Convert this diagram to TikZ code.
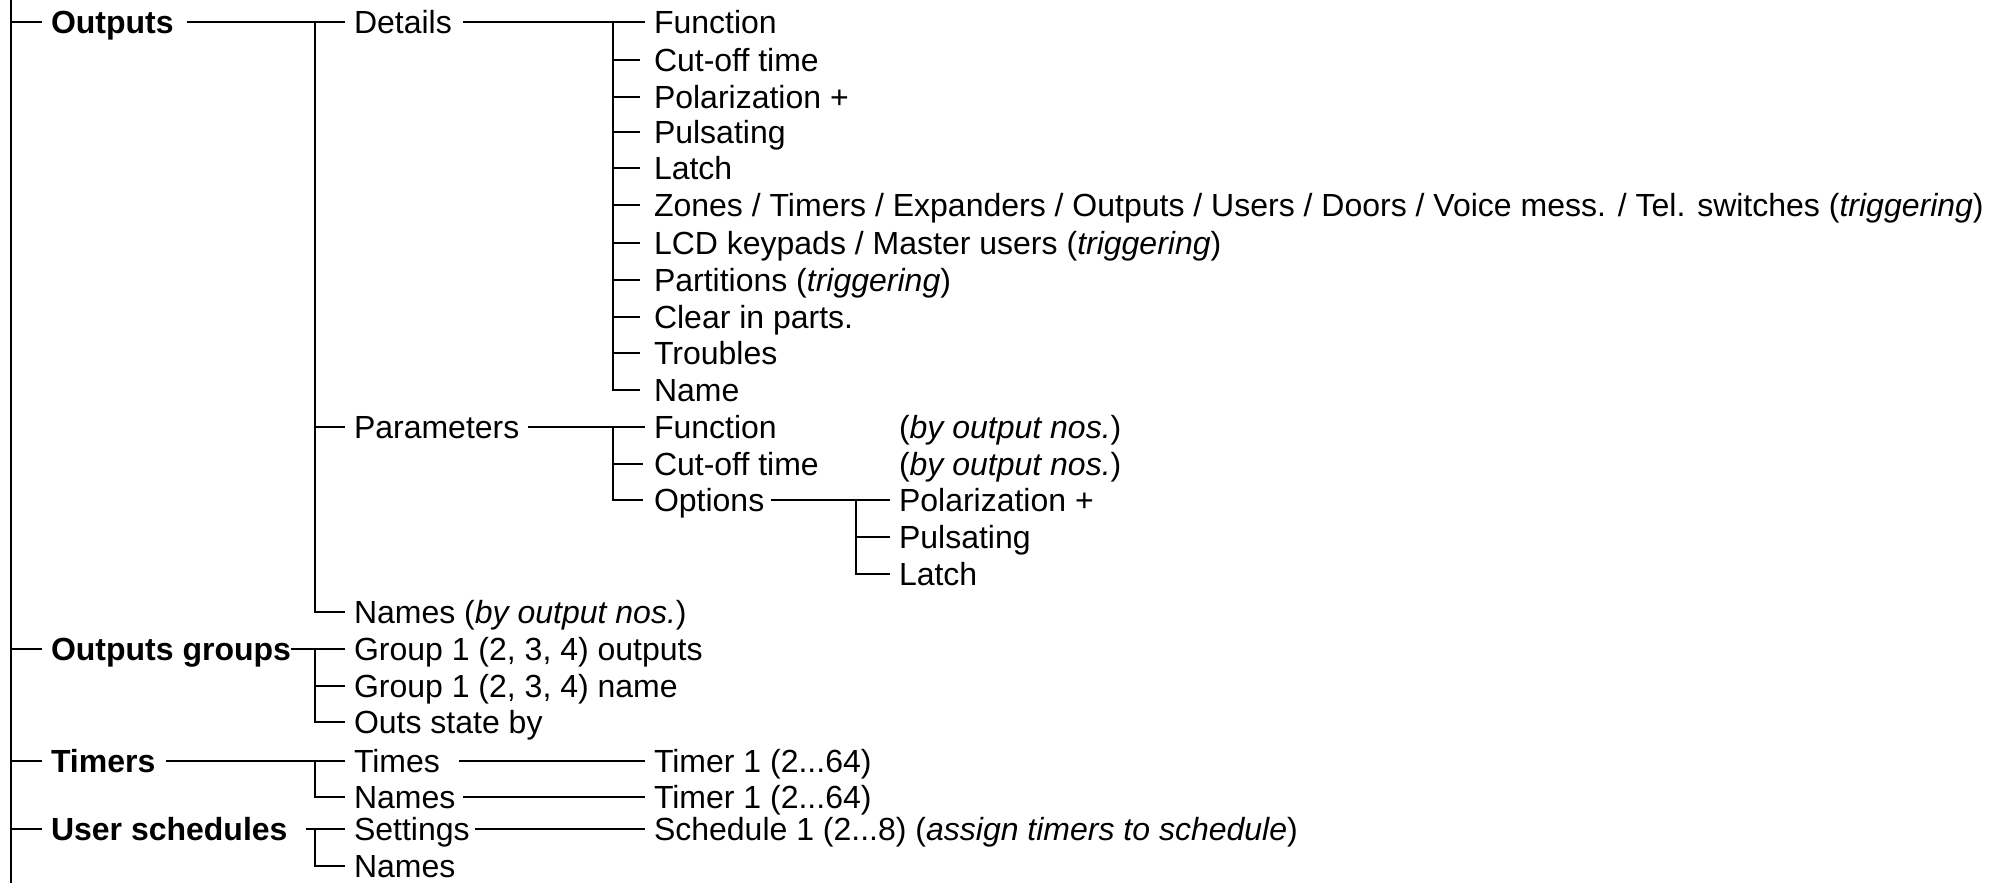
\documentclass[tikz,border=0pt]{standalone}
\usepackage{fontspec}
\setmainfont{Liberation Sans}
\begin{document}
\begin{tikzpicture}[x=1pt,y=-1pt,line width=2pt,
  lbl/.style={anchor=west,inner xsep=8pt,inner ysep=0pt,text height=22.5pt,text depth=0pt,
    font=\fontsize{32}{38}\selectfont},
  hd/.style={lbl,font=\fontsize{32}{38}\selectfont\bfseries}]
\useasboundingbox (0,0) rectangle (2008,883);
% level 1
\node[hd] (out) at (42,22) {Outputs};
\node[hd] (og)  at (42,649) {Outputs groups};
\node[hd] (tim) at (42,761) {Timers};
\node[hd] (us)  at (42,829) {User schedules};
% level 2
\node[lbl] (det) at (345,22)  {Details};
\node[lbl] (par) at (345,427) {Parameters};
\node[lbl] (nam) at (345,612) {Names (\textit{by output nos.})};
\node[lbl] (g1)  at (345,649) {Group 1 (2, 3, 4) outputs};
\node[lbl] (g2)  at (345,686) {Group 1 (2, 3, 4) name};
\node[lbl] (ost) at (345,722) {Outs state by};
\node[lbl] (tms) at (345,761) {Times};
\node[lbl] (tnm) at (345,797) {Names};
\node[lbl] (set) at (345,829) {Settings};
\node[lbl] (snm) at (345,866) {Names};
% level 3 (Details)
\node[lbl] (f1)  at (645,22)  {Function};
\node[lbl] (c1)  at (645,60)  {Cut-off time};
\node[lbl] (p1)  at (645,97)  {Polarization +};
\node[lbl] (pu1) at (645,132) {Pulsating};
\node[lbl] (l1)  at (645,168) {Latch};
\node[lbl] (z1)  at (645,205) {Zones / Timers / Expanders / Outputs / Users / Doors / Voice mess. / Tel. switches (\textit{triggering})};
\node[lbl] (lcd) at (645,243) {LCD keypads / Master users (\textit{triggering})};
\node[lbl] (prt) at (645,280) {Partitions (\textit{triggering})};
\node[lbl] (clr) at (645,317) {Clear in parts.};
\node[lbl] (trb) at (645,353) {Troubles};
\node[lbl] (nm)  at (645,390) {Name};
% level 3 (Parameters)
\node[lbl] (f2)  at (645,427) {Function};
\node[lbl] (c2)  at (645,464) {Cut-off time};
\node[lbl] (opt) at (645,500) {Options};
\node[lbl] (nos1) at (890,427) {(\textit{by output nos.})};
\node[lbl] (nos2) at (890,464) {(\textit{by output nos.})};
% level 4 (Options)
\node[lbl] (po)  at (890,500) {Polarization +};
\node[lbl] (pu2) at (890,537) {Pulsating};
\node[lbl] (la)  at (890,574) {Latch};
% timers / schedules
\node[lbl] (t1)  at (645,761) {Timer 1 (2...64)};
\node[lbl] (t2)  at (645,797) {Timer 1 (2...64)};
\node[lbl] (sch) at (645,829) {Schedule 1 (2...8) (\textit{assign timers to schedule})};
% trunk
\coordinate (top) at (11,0);
\coordinate (bot) at (11,883);
\draw (top) -- (bot);
\foreach \n in {out,og,tim,us} \draw (top |- \n.west) -- (\n.west);
% Outputs
\coordinate (jo) at (315,22);
\draw ([xshift=4pt]out.east) -- (det.west);
\draw (jo) |- (nam.west);
\draw (jo |- par.west) -- (par.west);
% Details
\coordinate (jd) at (613,22);
\draw ([xshift=2pt]det.east) -- (f1.west);
\draw (jd) |- ([xshift=-5pt]nm.west);
\foreach \n in {c1,p1,pu1,l1,z1,lcd,prt,clr,trb} \draw (jd |- \n.west) -- ([xshift=-5pt]\n.west);
% Parameters
\coordinate (jp) at (613,427);
\draw ([xshift=0pt]par.east) -- (f2.west);
\draw (jp) |- ([xshift=-2pt]opt.west);
\draw (jp |- c2.west) -- ([xshift=-2pt]c2.west);
% Options
\coordinate (jopt) at (856,500);
\draw ([xshift=-2pt]opt.east) -- (po.west);
\draw (jopt) |- (la.west);
\draw (jopt |- pu2.west) -- (pu2.west);
% Outputs groups
\coordinate (jg) at (315,649);
\draw ([xshift=-9pt]og.east) -- (g1.west);
\draw (jg) |- (ost.west);
\draw (jg |- g2.west) -- (g2.west);
% Timers
\coordinate (jt) at (315,761);
\draw ([xshift=2pt]tim.east) -- (tms.west);
\draw (jt) |- (tnm.west);
\draw ([xshift=10pt]tms.east) -- (t1.west);
\draw ([xshift=-1pt]tnm.east) -- (t2.west);
% User schedules
\coordinate (js) at (315,829);
\draw ([xshift=9pt]us.east) -- (set.west);
\draw (js) |- (snm.west);
\draw ([xshift=-4pt]set.east) -- (sch.west);
\end{tikzpicture}
\end{document}
